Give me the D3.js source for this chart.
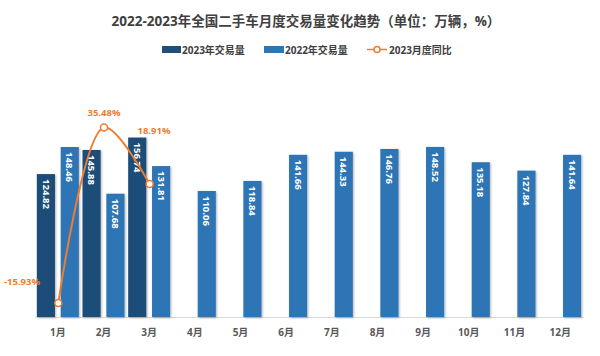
<!DOCTYPE html>
<html><head><meta charset="utf-8">
<script src="https://cdn.jsdelivr.net/npm/d3@7"></script>
<style>
html,body{margin:0;padding:0;background:#fff;}
text{font-family:"Open Sans","Noto Sans CJK SC",sans-serif;}
</style></head>
<body><svg id="c" width="600" height="356"></svg>
<script>
const months = ["1月","2月","3月","4月","5月","6月","7月","8月","9月","10月","11月","12月"];
const vol2023 = [124.82, 145.88, 156.74];
const vol2022 = [148.46, 107.68, 131.81, 110.06, 118.84, 141.66, 144.33, 146.76, 148.52, 135.18, 127.84, 141.64];
const yoy2023 = [-15.93, 35.48, 18.91];
const seriesNames = ["2023年交易量","2022年交易量","2023月度同比"];
const title = "2022-2023年全国二手车月度交易量变化趋势（单位：万辆，%）";

const C23 = "#1F4E79", C22 = "#2E75B6", CL = "#ED7D31";
const svg = d3.select("#c");
const defs = svg.append("defs");
const f = defs.append("filter").attr("id","sh").attr("x","-30%").attr("y","-10%").attr("width","160%").attr("height","120%");
f.append("feDropShadow").attr("dx",1).attr("dy",1).attr("stdDeviation",0.8).attr("flood-color","#000").attr("flood-opacity",0.3);

const x = d3.scaleBand().domain(months).range([35, 583]);
const xs = d3.scaleBand().domain(["a","b"]).range([-21, 21]).paddingInner(0.24);
const y = d3.scaleLinear().domain([0, 200]).range([317, 88]);
const y2 = d3.scaleLinear().domain([-20, 40]).range([317, 112]);

svg.append("text").attr("x",306).attr("y",26).attr("text-anchor","middle")
  .attr("font-size",13.5).attr("font-weight","bold").attr("fill","#404040").text(title);

// legend
const lg = svg.append("g").attr("font-size",10).attr("font-weight","bold").attr("fill","#404040");
lg.append("rect").attr("x",162).attr("y",46).attr("width",19).attr("height",7).attr("fill",C23);
lg.append("text").attr("x",182).attr("y",53.5).text(seriesNames[0]);
lg.append("rect").attr("x",264).attr("y",46).attr("width",20).attr("height",7).attr("fill",C22);
lg.append("text").attr("x",285).attr("y",53.5).text(seriesNames[1]);
lg.append("line").attr("x1",367).attr("x2",387).attr("y1",49.5).attr("y2",49.5).attr("stroke",CL).attr("stroke-width",1.5);
lg.append("circle").attr("cx",377).attr("cy",49.5).attr("r",3).attr("fill","#fff").attr("stroke",CL).attr("stroke-width",1.5);
lg.append("text").attr("x",389).attr("y",53.5).text(seriesNames[2]);

// axis
const ax = svg.append("g").attr("transform","translate(0,317)").call(d3.axisBottom(x).tickSize(0).tickPadding(12));
ax.select(".domain").attr("stroke","#D9D9D9");
ax.selectAll("text").attr("font-size",10).attr("font-weight","bold").attr("fill","#595959")
  .attr("font-family","\"Open Sans\",\"Noto Sans CJK SC\",sans-serif");

function bars(data, key, color){
  const g = svg.append("g");
  data.forEach((v,i)=>{
    const cx = x(months[i]) + x.bandwidth()/2 + xs(key);
    g.append("rect").attr("x",cx).attr("y",y(v)).attr("width",xs.bandwidth()).attr("height",y(0)-y(v))
      .attr("fill",color).attr("filter","url(#sh)");
    const lx = cx + xs.bandwidth()/2, ly = y(v)+5;
    g.append("text").attr("transform",`translate(${lx},${ly}) rotate(90)`).attr("dy","0.35em")
      .attr("font-size",9.5).attr("font-weight","bold").attr("fill","#fff").text(v.toFixed(2));
  });
}
bars(vol2023,"a",C23);
bars(vol2022,"b",C22);

// line
const pts = yoy2023.map((v,i)=>[x(months[i])+x.bandwidth()/2+0.5, y2(v)]);
svg.append("path").attr("d", d3.line().curve(d3.curveCatmullRom.alpha(0.5))(pts))
  .attr("fill","none").attr("stroke",CL).attr("stroke-width",2);
svg.selectAll(".mk").data(pts).enter().append("circle").attr("cx",d=>d[0]).attr("cy",d=>d[1]).attr("r",3.5)
  .attr("fill","#fff").attr("stroke",CL).attr("stroke-width",1.5);
const lblPos = [[22,285],[104,116],[154,134]];
yoy2023.forEach((v,i)=>{
  svg.append("text").attr("x",lblPos[i][0]).attr("y",lblPos[i][1]).attr("text-anchor","middle")
    .attr("font-size",9.5).attr("font-weight","bold").attr("fill",CL).text(v.toFixed(2)+"%");
});
</script></body></html>
